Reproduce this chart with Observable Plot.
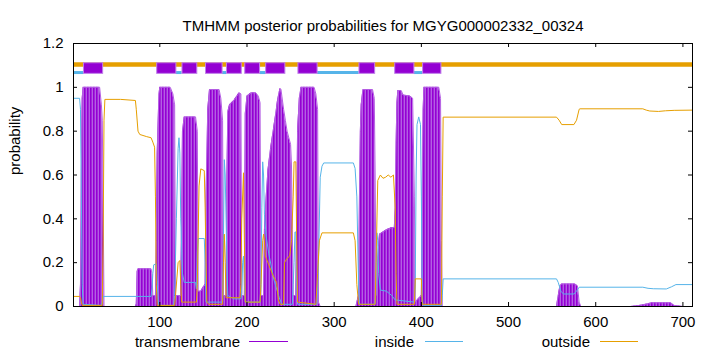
<!DOCTYPE html>
<html><head><meta charset="utf-8">
<script src="https://cdn.jsdelivr.net/npm/d3@7"></script>
<script src="https://cdn.jsdelivr.net/npm/@observablehq/plot@0.6"></script>
<style>
html,body{margin:0;padding:0;background:#fff;}
#chart{width:720px;height:352px;}
</style></head><body><div id="chart"></div>
<script>
const titleText = "TMHMM posterior probabilities for MGYG000002332_00324";
const yLabel = "probability";
const seriesNames = ["transmembrane", "inside", "outside"];
const seriesColors = ["#9400D3", "#56B4E9", "#E69F00"];
const proteinLength = 711;
const xTicks = [100, 200, 300, 400, 500, 600, 700];
const yTicks = [0, 0.2, 0.4, 0.6, 0.8, 1, 1.2];
const yTickLabels = ["0", "0.2", "0.4", "0.6", "0.8", "1", "1.2"];

// predicted topology (residue ranges)
const tmStart = [13, 97, 126, 153, 177, 198, 222, 259, 329, 370, 402];
const tmEnd   = [35, 119, 143, 172, 194, 215, 244, 281, 347, 392, 423];
const inStart = [1, 118.7, 172, 215, 281, 392];
const inEnd   = [12.8, 125.6, 176.6, 222, 328.7, 401.4];

// transmembrane posterior probability
const tmPos = [1,8,9,10,11,12,31,33,34,35,36,72,73,74,75,90,91,92,95,96,97,99,100,112,115,117,118,124,125,126,128,141,143,144,147,150,152,153,155,157,168,170,172,173,176,177,178,180,185,191,193,194,197,198,200,205,210,213,215,216,219,220,222,224,227,230,233,235,237,238,239,240,242,244,246,248,250,251,252,253,256,257,258,260,262,277,279,281,282,284,325,326,328,329,330,331,333,344,346,347,348,349,350,351,352,356,360,366,369,370,371,372,373,377,379,387,390,392,393,400,401,402,403,420,422,423,424,555,557,559,561,576,579,581,583,640,650,660,664,686,690,700,711];
const tmVal = [0,0,0.1,0.6,0.95,1,1,0.92,0.85,0.48,0,0,0.01,0.16,0.172,0.172,0.15,0.05,0.05,0.3,0.7,0.97,1,1,0.97,0.92,0.05,0.05,0.4,0.8,0.865,0.865,0.8,0.07,0.07,0.09,0.1,0.5,0.9,0.99,0.99,0.95,0.85,0.05,0.05,0.6,0.89,0.92,0.94,0.975,0.97,0.05,0.05,0.88,0.96,0.975,0.975,0.96,0.93,0.05,0.05,0.35,0.5,0.62,0.72,0.8,0.88,0.94,0.98,0.995,0.99,0.96,0.9,0.85,0.8,0.77,0.74,0.65,0.35,0.05,0.05,0.4,0.8,0.95,1,1,0.97,0.9,0.02,0,0,0.02,0.05,0.5,0.8,0.92,0.99,0.99,0.95,0.6,0.05,0.1,0.22,0.28,0.33,0.34,0.35,0.36,0.36,0.45,0.75,0.93,0.985,0.985,0.965,0.96,0.95,0.5,0.02,0.05,0.5,0.9,1,1,0.95,0.3,0,0,0.05,0.095,0.103,0.103,0.095,0.02,0,0,0.005,0.012,0.017,0.017,0.005,0,0];

// inside posterior probability
const inPos = [1,8,9,10,11,12,33,34,35,90,91,92,93,96,97,98,99,116,117,119,121,122,123,124,126,128,141,142,143,144,151,152,153,172,173,174,175,177,178,185,193,194,195,196,197,198,215,216,217,218,219,220,222,225,228,231,234,237,240,252,253,254,255,256,257,258,280,282,284,286,288,322,324,326,328,329,347,348,349,350,351,353,360,366,370,392,393,394,395,397,399,400,401,402,423,424,425,555,557,560,563,575,578,581,654,660,666,681,687,692,711];
const inVal = [0.95,0.95,0.9,0.5,0.1,0.01,0.005,0.02,0.046,0.046,0.08,0.15,0.19,0.195,0.12,0.03,0.005,0.005,0.05,0.4,0.72,0.77,0.7,0.4,0.15,0.11,0.11,0.08,0.25,0.31,0.31,0.2,0.02,0.02,0.3,0.67,0.6,0.2,0.05,0.035,0.035,0.06,0.2,0.23,0.1,0.02,0.02,0.1,0.45,0.66,0.6,0.42,0.32,0.24,0.18,0.12,0.08,0.04,0.01,0.01,0.1,0.2,0.34,0.34,0.1,0.01,0.01,0.2,0.59,0.64,0.655,0.655,0.63,0.5,0.1,0.01,0.01,0.1,0.336,0.3,0.15,0.075,0.07,0.05,0.03,0.02,0.1,0.6,0.83,0.865,0.83,0.5,0.05,0.005,0.005,0.05,0.126,0.126,0.11,0.07,0.057,0.057,0.07,0.088,0.088,0.083,0.081,0.08,0.09,0.1,0.1];

// outside posterior probability
const outPos = [1,8,9,10,11,34,35,36,37,55,72,73,75,77,85,90,92,94,95,96,97,117,118,121,123,124,125,142,143,145,147,151,152,153,154,156,172,173,174,175,176,192,193,194,196,197,198,215,216,218,219,220,221,225,230,234,236,238,242,243,246,249,251,253,254,256,257,258,279,281,283,286,322,324,326,328,347,348,350,353,356,359,362,365,368,370,371,372,392,393,400,401,423,424,425,555,558,561,575,578,581,582,654,658,662,672,680,690,711];
const outVal = [0.046,0.046,0.04,0.02,0.005,0.005,0.3,0.85,0.945,0.945,0.94,0.9,0.8,0.785,0.775,0.77,0.75,0.727,0.5,0.1,0.005,0.005,0.05,0.2,0.21,0.1,0.02,0.02,0.1,0.55,0.628,0.62,0.45,0.2,0.02,0.01,0.01,0.2,0.33,0.2,0.04,0.04,0.1,0.4,0.61,0.3,0.02,0.02,0.1,0.3,0.33,0.3,0.23,0.19,0.14,0.11,0.03,0.01,0.01,0.2,0.22,0.23,0.3,0.5,0.66,0.66,0.3,0.02,0.01,0.15,0.3,0.336,0.336,0.3,0.1,0.01,0.01,0.2,0.575,0.6,0.585,0.59,0.6,0.59,0.6,0.45,0.15,0.01,0.01,0.126,0.126,0.01,0.01,0.5,0.864,0.864,0.85,0.83,0.83,0.85,0.9,0.902,0.902,0.896,0.892,0.89,0.893,0.895,0.896];

const toRows = (p, v) => p.map((x, i) => ({pos: x, val: v[i]}));
const tm = toRows(tmPos, tmVal);
const inside = toRows(inPos, inVal);
const outside = toRows(outPos, outVal);
const tmSegs = tmStart.map((s, i) => ({s, e: tmEnd[i]}));
const inSegs = inStart.map((s, i) => ({s, e: inEnd[i]}));
const outSegs = [{s: 1, e: proteinLength}];

const W = 720, H = 352;
const mL = 73, mR = 28, mT = 43, mB = 46;
const pw = W - mL - mR, ph = H - mT - mB;
const tickLen = 4;

const plot = Plot.plot({
  width: W, height: H,
  marginLeft: mL, marginRight: mR, marginTop: mT, marginBottom: mB,
  style: {fontFamily: "'Liberation Sans', Arial, sans-serif", fontSize: "15px", background: "#fff", color: "#000"},
  x: {domain: [1, proteinLength], axis: null},
  y: {domain: [0, 1.2], axis: null},
  marks: [
    Plot.areaY(tm, {x: "pos", y: "val", fill: "url(#tmStripes)", curve: "linear"}),
    Plot.lineY(tm, {x: "pos", y: "val", stroke: "#b45ee3", strokeWidth: 1}),
    Plot.lineY(inside, {x: "pos", y: "val", stroke: seriesColors[1], strokeWidth: 1}),
    Plot.lineY(outside, {x: "pos", y: "val", stroke: seriesColors[2], strokeWidth: 1}),
    Plot.ruleY(outSegs, {x1: "s", x2: "e", y: () => 1.104, stroke: seriesColors[2], strokeWidth: 4.5}),
    Plot.ruleY(inSegs, {x1: "s", x2: "e", y: () => 1.0675, stroke: seriesColors[1], strokeWidth: 3}),
    Plot.rect(tmSegs, {x1: "s", x2: "e", y1: () => 1.0615, y2: () => 1.11, fill: seriesColors[0], stroke: "#c080ea", strokeWidth: 1}),
    Plot.frame({stroke: "#000", strokeWidth: 1}),
    Plot.ruleX(xTicks, {insetTop: ph - tickLen, stroke: "#000"}),
    Plot.ruleX(xTicks, {insetBottom: ph - tickLen, stroke: "#000"}),
    Plot.ruleY(yTicks, {insetRight: pw - tickLen, stroke: "#000"}),
    Plot.ruleY(yTicks, {insetLeft: pw - tickLen, stroke: "#000"}),
    Plot.axisX({ticks: xTicks, tickSize: 0, tickPadding: 10, label: null, fontSize: 15}),
    Plot.axisY({ticks: yTicks, tickSize: 0, tickPadding: 10, label: null, fontSize: 15,
      tickFormat: d => yTickLabels[yTicks.indexOf(d)]}),
    Plot.text([titleText], {text: d => d, frameAnchor: "top", dy: -23, fontSize: 15}),
    Plot.text([yLabel], {text: d => d, frameAnchor: "left", dx: -58, rotate: -90, fontSize: 15})
  ]
});

const svg = d3.select(plot);
const defs = svg.insert("defs", ":first-child");
const pat = defs.append("pattern").attr("id", "tmStripes").attr("patternUnits", "userSpaceOnUse")
  .attr("width", 3).attr("height", 10);
pat.append("rect").attr("width", 3).attr("height", 10).attr("fill", "#b45ee3");
pat.append("rect").attr("width", 1.6).attr("height", 10).attr("fill", "#9400D3");

// legend
const legendY = 341.5;
const legendTextEnd = [240, 414, 590];
const legendLine = [[249, 288], [425, 463], [600, 638]];
const lg = svg.append("g").attr("font-size", 15);
seriesNames.forEach((name, i) => {
  lg.append("text").attr("x", legendTextEnd[i]).attr("y", legendY).attr("dy", "0.35em")
    .attr("text-anchor", "end").attr("fill", "#000").text(name);
  lg.append("line").attr("x1", legendLine[i][0]).attr("x2", legendLine[i][1])
    .attr("y1", legendY).attr("y2", legendY).attr("stroke", seriesColors[i]).attr("stroke-width", 1);
});

document.getElementById("chart").appendChild(plot);
</script></body></html>
